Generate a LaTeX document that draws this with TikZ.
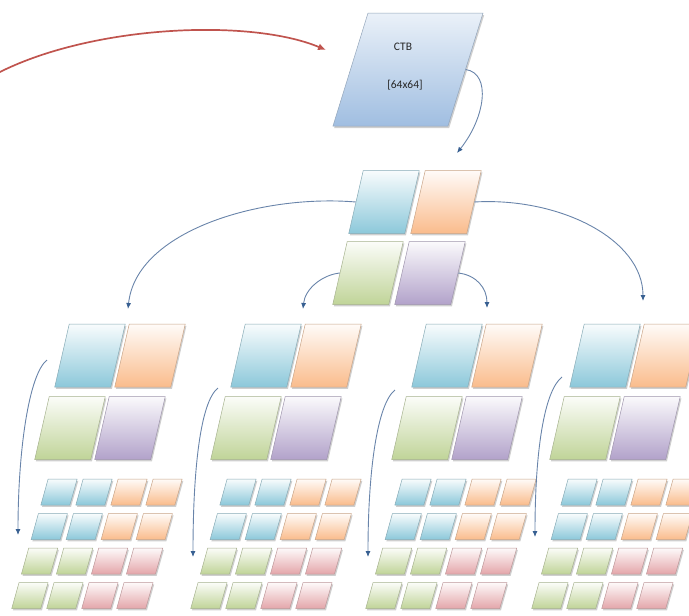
\documentclass[tikz,border=0pt]{standalone}
\usepackage{fontspec}
\setmainfont{Carlito}
\usetikzlibrary{shadows,arrows.meta,calc}

\definecolor{tileblue}{RGB}{140,200,218}
\definecolor{tileorange}{RGB}{250,188,140}
\definecolor{tilegreen}{RGB}{192,212,152}
\definecolor{tilepurple}{RGB}{178,162,202}
\definecolor{tilepink}{RGB}{228,166,170}
\definecolor{ctbfill}{RGB}{160,190,225}
\definecolor{linkblue}{RGB}{105,132,170}
\definecolor{tipblue}{RGB}{55,95,145}
\definecolor{rootred}{RGB}{192,84,78}

\begin{document}
\begin{tikzpicture}[x=1pt,y=-1pt,
  tile/.style={rectangle, inner sep=0pt, draw=#1!60!gray, line width=0.5pt,
    top color=#1!6, bottom color=#1,
    drop shadow={shadow xshift=1.2pt, shadow yshift=-1.8pt, opacity=0.38}},
  bigtile/.style={tile=#1, minimum width=56pt, minimum height=63pt, xslant=0.23},
  smalltile/.style={tile=#1, minimum width=29pt, minimum height=26pt, xslant=0.28},
  ctbtile/.style={rectangle, inner sep=0pt, draw=ctbfill!60!gray, line width=0.5pt,
    top color=ctbfill!22, bottom color=ctbfill,
    minimum width=115pt, minimum height=113pt, xslant=0.31,
    drop shadow={shadow xshift=1.2pt, shadow yshift=-2pt, opacity=0.38}},
  ctblabel/.style={font=\fontsize{11.5}{13}\selectfont, text=black!85, inner sep=0pt},
  link/.style={draw=linkblue, line width=0.9pt,
    -{Latex[length=6pt,width=5pt,fill=tipblue,color=tipblue]}},
  rootlink/.style={draw=rootred, line width=1.7pt,
    -{Latex[length=8pt,width=7pt]}}
]
\useasboundingbox (0,0) rectangle (689,616);
\clip (0,0) rectangle (689,616);

% root coding tree block
\node[ctbtile] (ctb) at (408,69.5) {};
\node[ctblabel] (ctbname) at (403,47) {CTB};
\node[ctblabel] (ctbsize) at (405,85) {[64x64]};

% first split: four quadrants
\node[bigtile=tileblue]   (l1b) at (384,202) {};
\node[bigtile=tileorange] (l1o) at (446,202) {};
\node[bigtile=tilegreen]  (l1g) at (368,273) {};
\node[bigtile=tilepurple] (l1p) at (430,273) {};

% second and third split for each quadrant
\foreach \g/\bx/\sx in {1/90/59, 2/266/238, 3/447/413, 4/605/579}{
  \node[bigtile=tileblue]   (g\g b) at (\bx,355.5) {};
  \node[bigtile=tileorange] (g\g o) at (\bx+60,355.5) {};
  \node[bigtile=tilegreen]  (g\g g) at (\bx-20,428) {};
  \node[bigtile=tilepurple] (g\g p) at (\bx+40,428) {};
  \foreach \r in {1,...,4}{
    \foreach \c in {1,...,4}{
      \pgfmathtruncatemacro{\q}{(\r>2)*2+(\c>2)}
      \ifcase\q \def\tc{tileblue}\or \def\tc{tileorange}\or \def\tc{tilegreen}\else \def\tc{tilepink}\fi
      \node[smalltile=\tc] (g\g s\r\c) at ({\sx+35*(\c-1)-9.7*(\r-1)},{492+34.5*(\r-1)}) {};
    }
  }
}

% free ends of the connectors
\coordinate (redstart) at (-4,74);
\coordinate (redtip) at (326,50);
\coordinate (l1tip) at (457,153);
\coordinate (t1) at (128,309);
\coordinate (t2) at (303,309);
\coordinate (t3) at (487,308);
\coordinate (t4) at (643,301);

% connectors
\draw[rootlink] (redstart) .. controls (90,25) and (250,18) .. (redtip);
\draw[link] (ctb.east) .. controls +(26,4) and +(28,-35) .. (l1tip);
\draw[link] (l1b.west) .. controls +(-95,-8) and +(8,-78) .. (t1);
\draw[link] (l1g.west) .. controls +(-18,2) and +(2,-20) .. (t2);
\draw[link] (l1p.east) .. controls +(18,2) and +(0,-20) .. (t3);
\draw[link] (l1o.east) .. controls +(85,-5) and +(0,-62) .. (t4);

\foreach \g/\ax/\ay/\ex/\ey in {1/47/360/18/535, 2/218/388/193/557, 3/395/390/368/557, 4/562/377/535/537}{
  \coordinate (a\g) at (\ax,\ay);
  \coordinate (e\g) at (\ex,\ey);
  \draw[link] (a\g) .. controls +(-18,14) and +(0,-85) .. (e\g);
}
\end{tikzpicture}
\end{document}
